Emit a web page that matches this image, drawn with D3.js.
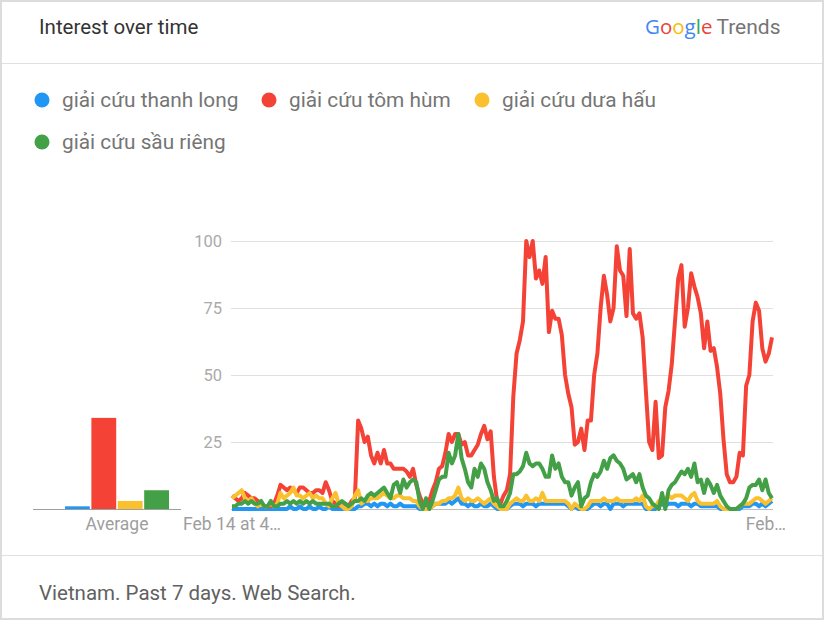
<!DOCTYPE html>
<html>
<head>
<meta charset="utf-8">
<script src="https://cdn.jsdelivr.net/npm/d3@7"></script>
<style>
  body { margin: 0; background: #fff; font-family: Roboto, "Noto Sans", sans-serif; }
</style>
</head>
<body>
<div id="chart"></div>
<script>
// chart data (Google Trends, hourly, past 7 days)
var seriesNames = ["giải cứu thanh long", "giải cứu tôm hùm", "giải cứu dưa hấu", "giải cứu sầu riêng"];
var seriesColors = ["#2196f3", "#f44336", "#fbc02d", "#43a047"];
var averages = [1, 34, 3, 7];
var yTicks = [25, 50, 75, 100];
var xTickLabels = ["Feb 14 at 4…", "Feb…"];

var thanhLong = [0,0,0,0,0,0,0,0,0,0,0,0,0,0,0,0,0,0,1,0,0,1,0,0,1,0,0,1,0,0,
  1,0,0,0,0,0,0,0,0,1,1,2,2,1,2,1,2,2,1,2,1,1,2,1,1,1,1,1,0,0,
  0,0,1,2,2,2,2,3,2,3,4,2,2,1,2,1,1,2,1,1,2,1,0,0,0,0,1,2,2,2,
  1,2,2,2,1,2,2,2,2,2,2,2,2,2,1,0,1,0,0,0,0,1,2,2,1,2,2,0,2,2,
  2,1,2,2,2,2,2,2,0,0,0,0,1,2,1,2,2,2,1,2,2,2,1,2,2,1,1,1,1,1,
  1,0,0,0,0,0,0,0,1,1,1,2,2,1,2,1,2,3];
var tomHum = [5,4,3,4,6,5,4,4,3,2,1,1,1,2,5,9,8,7,8,7,6,8,8,7,6,6,7,7,6,10,
  7,3,2,1,2,2,1,3,4,33,30,25,27,20,17,21,17,22,17,17,15,15,15,15,14,12,15,9,5,2,
  1,3,7,10,15,16,21,28,25,28,28,24,25,20,20,22,24,28,31,26,29,12,3,2,5,7,13,42,58,63,
  70,100,94,100,86,89,84,94,66,74,71,71,65,50,43,38,24,25,30,22,33,33,50,58,75,87,80,70,75,98,
  89,87,72,97,73,71,73,64,44,25,22,40,19,20,38,44,54,70,86,91,68,75,88,83,79,73,60,70,59,60,
  53,43,26,13,10,10,12,21,20,46,50,70,77,74,60,55,58,64];
var duaHau = [4,5,6,7,4,3,4,2,1,2,1,1,2,1,2,6,4,5,6,8,5,5,4,5,6,4,5,4,4,2,
  1,4,6,2,1,0,0,1,5,7,2,3,3,4,4,4,5,6,5,4,4,5,5,4,4,4,3,3,1,0,
  0,0,1,2,2,3,3,4,4,5,8,4,3,4,3,3,4,3,2,3,4,2,1,0,0,0,2,3,4,3,
  3,5,3,3,4,3,6,3,3,3,3,3,3,3,2,0,2,1,0,0,1,3,3,3,3,4,3,3,3,4,
  3,3,3,3,3,4,3,5,1,0,1,1,3,4,4,5,4,5,5,5,4,3,5,6,3,2,2,2,2,2,
  3,1,0,0,0,0,0,1,2,2,2,3,4,4,3,2,3,4];
var sauRieng = [1,1,2,2,3,2,3,2,2,3,1,1,3,1,1,2,2,3,2,3,2,3,2,3,2,3,2,2,2,2,
  2,1,1,2,3,2,1,2,3,3,4,3,5,6,5,6,7,8,6,4,9,10,6,11,8,10,11,10,3,0,
  4,0,3,7,11,12,12,21,17,20,28,19,15,10,8,15,12,17,15,10,7,3,4,1,1,3,6,13,13,14,
  16,21,17,16,17,17,15,12,12,20,15,17,12,10,10,5,8,10,1,4,5,10,13,12,14,18,15,19,20,18,
  17,15,11,12,13,10,13,8,5,4,2,1,0,6,0,7,9,10,12,14,13,15,12,17,10,11,6,11,9,6,
  9,5,3,1,0,0,0,1,2,4,8,9,9,11,7,11,6,4];

var series = [thanhLong, tomHum, duaHau, sauRieng];

var width = 824, height = 620;

var svg = d3.select("#chart")
  .append("svg")
    .attr("width", width)
    .attr("height", height);

// card
svg.append("rect")
  .attr("x", 1).attr("y", 1)
  .attr("width", width - 2).attr("height", height - 2)
  .attr("fill", "#fff")
  .attr("stroke", "#dcdcdc")
  .attr("stroke-width", 2);

svg.append("line")
  .attr("x1", 2).attr("x2", width - 2)
  .attr("y1", 63.5).attr("y2", 63.5)
  .attr("stroke", "#e0e0e0");
svg.append("line")
  .attr("x1", 2).attr("x2", width - 2)
  .attr("y1", 555.5).attr("y2", 555.5)
  .attr("stroke", "#e0e0e0");

// header
svg.append("text")
  .attr("x", 39).attr("y", 34)
  .attr("font-size", 20.5)
  .attr("fill", "#333")
  .text("Interest over time");

var logoLetters = [["G", "#4285f4"], ["o", "#ea4335"], ["o", "#fbbc05"], ["g", "#4285f4"], ["l", "#34a853"], ["e", "#ea4335"]];
var logo = svg.append("text")
  .attr("x", 645).attr("y", 34)
  .attr("font-family", "'Open Sans', Roboto, sans-serif")
  .attr("font-size", 20.5);
logo.selectAll("tspan")
  .data(logoLetters)
  .enter()
  .append("tspan")
    .attr("fill", function(d) { return d[1]; })
    .text(function(d) { return d[0]; });
logo.append("tspan")
  .attr("dx", 4)
  .attr("fill", "#757575")
  .attr("font-family", "Roboto, sans-serif")
  .attr("font-size", 21)
  .text("Trends");

// legend
var legendPos = [[42, 100], [269, 100], [482, 100], [42, 142]];
var legend = svg.selectAll(".legend")
  .data(seriesNames)
  .enter()
  .append("g")
    .attr("class", "legend")
    .attr("transform", function(d, i) { return "translate(" + legendPos[i][0] + "," + legendPos[i][1] + ")"; });
legend.append("circle")
  .attr("r", 7.5)
  .attr("fill", function(d, i) { return seriesColors[i]; });
legend.append("text")
  .attr("x", 20).attr("y", 7)
  .attr("font-size", 20.8)
  .attr("fill", "#757575")
  .text(function(d) { return d; });

// scales
var x = d3.scaleLinear().domain([0, tomHum.length - 1]).range([232, 772]);
var y = d3.scaleLinear().domain([0, 100]).range([509, 241]);

// grid + y labels
var yAxis = svg.append("g")
  .attr("transform", "translate(231,0)")
  .call(d3.axisLeft(y).tickValues(yTicks).tickSize(-542).tickPadding(9));
yAxis.select(".domain").remove();
yAxis.selectAll("line").attr("stroke", "#e0e0e0");
yAxis.selectAll("text")
  .attr("fill", "#aaa")
  .attr("font-size", 16.5)
  .attr("font-family", "Roboto, sans-serif");

// baselines
svg.append("line")
  .attr("x1", 33).attr("x2", 181)
  .attr("y1", y(0) + 0.5).attr("y2", y(0) + 0.5)
  .attr("stroke", "#9e9e9e");
svg.append("line")
  .attr("x1", 231).attr("x2", 773)
  .attr("y1", y(0) + 0.5).attr("y2", y(0) + 0.5)
  .attr("stroke", "#bdbdbd");

// average bars
var xBar = d3.scaleBand().domain(d3.range(averages.length)).range([65, 169]).paddingInner(0.06);
svg.selectAll(".avg")
  .data(averages)
  .enter()
  .append("rect")
    .attr("class", "avg")
    .attr("x", function(d, i) { return xBar(i); })
    .attr("width", xBar.bandwidth())
    .attr("y", function(d) { return y(d); })
    .attr("height", function(d) { return y(0) - y(d); })
    .attr("fill", function(d, i) { return seriesColors[i]; });

svg.append("text")
  .attr("x", 117).attr("y", 530)
  .attr("text-anchor", "middle")
  .attr("font-size", 17.5)
  .attr("fill", "#9e9e9e")
  .text("Average");

// x labels
svg.append("text")
  .attr("x", x(0)).attr("y", 530)
  .attr("text-anchor", "middle")
  .attr("font-size", 17.5)
  .attr("fill", "#9e9e9e")
  .text(xTickLabels[0]);
svg.append("text")
  .attr("x", 786).attr("y", 530)
  .attr("text-anchor", "end")
  .attr("font-size", 17.5)
  .attr("fill", "#9e9e9e")
  .text(xTickLabels[1]);

// lines
var line = d3.line()
  .x(function(d, i) { return x(i); })
  .y(function(d) { return y(d); });

svg.selectAll(".series")
  .data(series)
  .enter()
  .append("path")
    .attr("class", "series")
    .attr("fill", "none")
    .attr("stroke", function(d, i) { return seriesColors[i]; })
    .attr("stroke-width", 4)
    .attr("stroke-linejoin", "round")
    .attr("d", line);

// footer
svg.append("text")
  .attr("x", 39).attr("y", 600)
  .attr("font-size", 20.5)
  .attr("fill", "#616161")
  .text("Vietnam. Past 7 days. Web Search.");
</script>
</body>
</html>
